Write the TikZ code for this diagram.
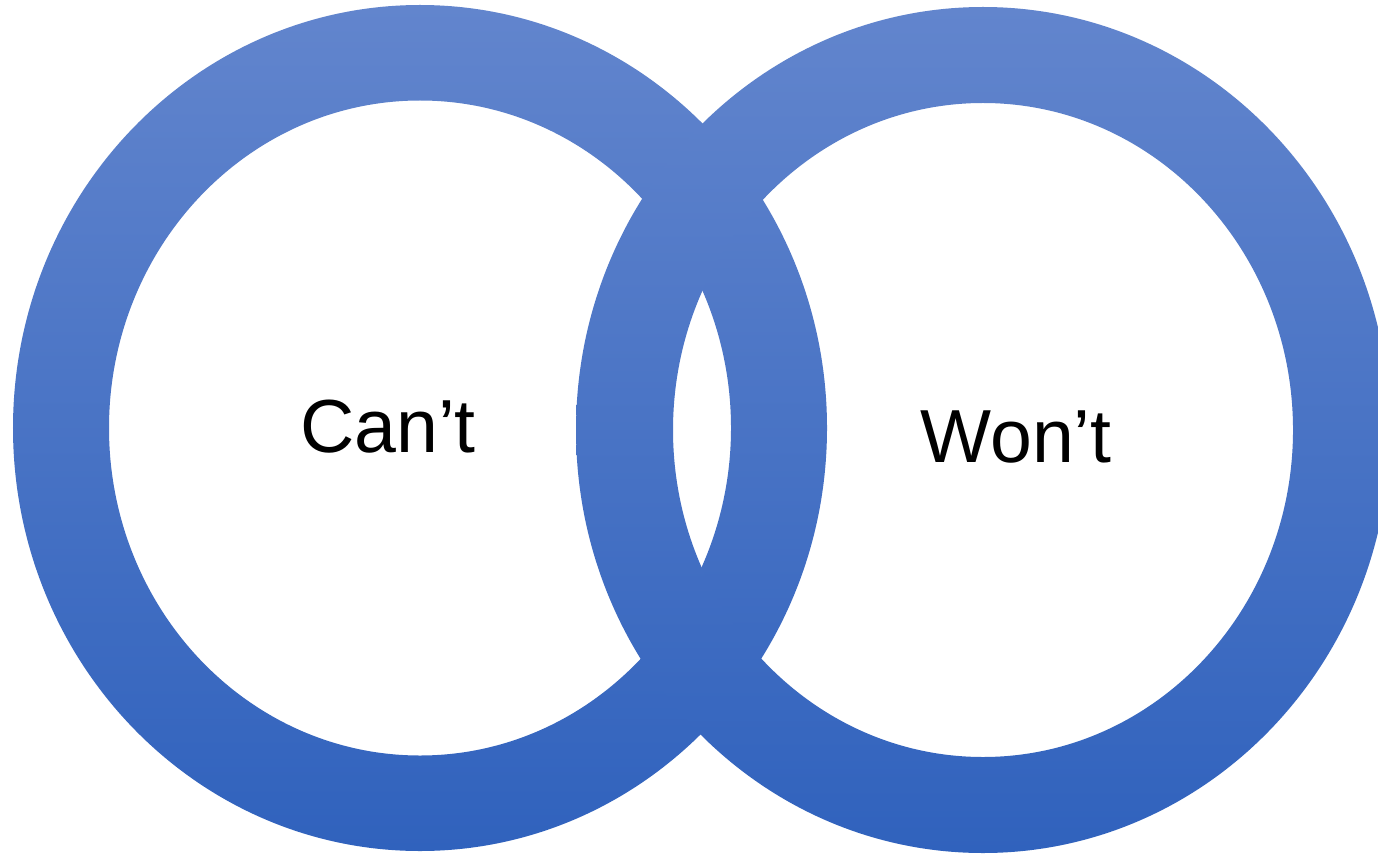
\documentclass[tikz,border=0pt]{standalone}
\usepackage{fontspec}
\setmainfont{Liberation Sans}
\usepackage{tikz}
\usetikzlibrary{positioning}

\definecolor{ringtop}{HTML}{6285CD}
\definecolor{ringbottom}{HTML}{3062BD}

\tikzset{
    ring/.style={top color=ringtop,bottom color=ringbottom,even odd rule},
    word/.style={font=\fontsize{21.4}{25}\selectfont,text=black,inner sep=0pt}
}

\begin{document}
\begin{tikzpicture}
    \clip (0,0) rectangle (13.78,8.54);
    \fill[white] (0,0) rectangle (13.78,8.54);

    % two rings
    \coordinate (cant) at (4.20,4.26);
    \coordinate (wont) at (9.83,4.24);
    \shade[ring] (cant) ellipse [x radius=4.07,y radius=4.23]
                 (cant) ellipse [x radius=3.11,y radius=3.275];
    \shade[ring] (wont) ellipse [x radius=4.07,y radius=4.23]
                 (wont) ellipse [x radius=3.10,y radius=3.27];

    % labels
    \node[word] (cantlabel) at (3.88,4.27) {Can’t};
    \node[word] (wontlabel) at (10.16,4.17) {Won’t};
\end{tikzpicture}
\end{document}
